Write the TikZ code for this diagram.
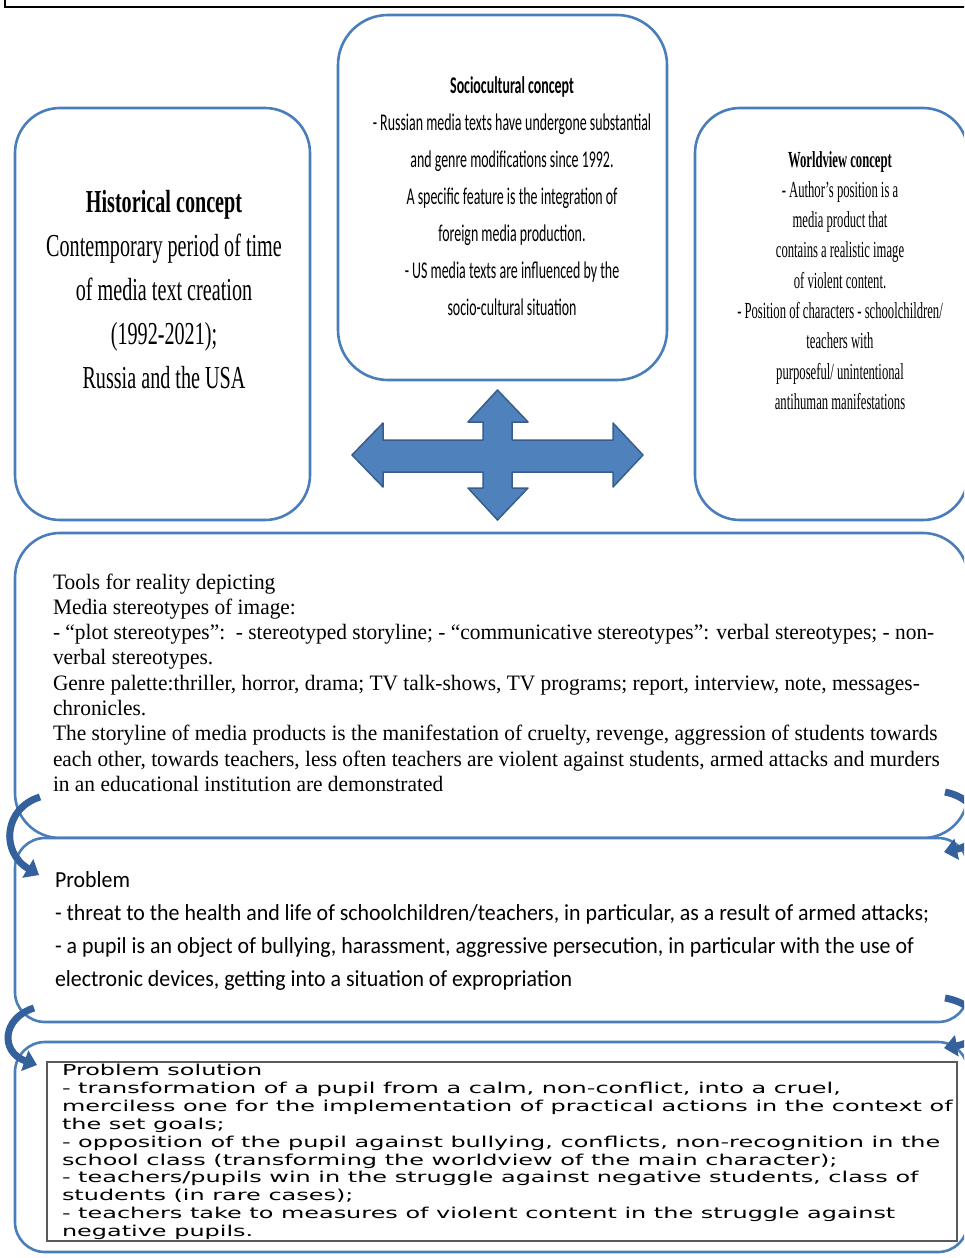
\documentclass[tikz,border=0pt]{standalone}
\usepackage{graphicx}
\usepackage{fontspec}
\setmainfont{Liberation Serif}
\newfontfamily\sansc{Carlito}
\newfontfamily\solfont{DejaVu Sans}
\newcommand{\hsc}[3]{\scalebox{#1}[1]{\begin{tabular}[t]{@{}#2@{}}#3\end{tabular}}}
\usetikzlibrary{arrows.meta}
\definecolor{boxblue}{RGB}{74,126,187}
\definecolor{arrfill}{RGB}{79,129,189}
\definecolor{arrline}{RGB}{56,93,138}
\definecolor{curvblue}{RGB}{52,96,155}
\definecolor{rectgray}{RGB}{90,90,90}
\begin{document}
\begin{tikzpicture}[x=1pt,y=-1pt,
  cbox/.style={draw=boxblue, line width=2.6pt, fill=white},
  txt/.style={inner sep=0pt, outer sep=0pt, text=black},
  carrow/.style={draw=curvblue, line width=7pt, -{Triangle[length=13pt,width=21pt]}},
  cross/.style={fill=arrfill, draw=arrline, line width=1.5pt, line join=round}
]
\useasboundingbox (0,0) rectangle (964,1258);
\clip (0,0) rectangle (964,1258);
\fill[white] (0,0) rectangle (964,1258);
% top frame
\draw[black, line width=1.6pt] (5,-5) -- (5,7) -- (975,7);

% concept boxes
\draw[cbox, rounded corners=45pt] (15,108) rectangle (310,520);
\draw[cbox, rounded corners=50pt] (338,15) rectangle (667,380);
\draw[cbox, rounded corners=45pt] (695,108) rectangle (968,520);

% lower boxes
\draw[cbox, rounded corners=45pt] (15,533) rectangle (968,838);
\draw[cbox, rounded corners=30pt] (15,838) rectangle (968,1022);
\draw[cbox, rounded corners=30pt] (15,1042) rectangle (968,1252);
\draw[rectgray, line width=1.4pt] (47,1062) rectangle (957,1241);

% four-headed arrow
\draw[cross] (352,455) -- (383,423) -- (383,440) -- (483,440) -- (483,422) -- (468,422)
  -- (497.5,390) -- (528,422) -- (512,422) -- (512,440) -- (613,440) -- (613,423)
  -- (643,455) -- (613,487) -- (613,472) -- (512,472) -- (512,488) -- (528,488)
  -- (497.5,520) -- (468,488) -- (483,488) -- (483,472) -- (383,472) -- (383,487) -- cycle;

% curved arrows
\coordinate (la1s) at (40,797);  \coordinate (la1e) at (39,875);
\coordinate (la2s) at (34,1008); \coordinate (la2e) at (37,1065);
\coordinate (ra1s) at (945,792); \coordinate (ra1e) at (944,852);
\coordinate (ra2s) at (945,998); \coordinate (ra2e) at (944,1048);
\draw[carrow] (la1s) .. controls (4,808) and (0,852) .. (la1e);
\draw[carrow] (la2s) .. controls (2,1018) and (0,1052) .. (la2e);
\draw[carrow] (ra1s) .. controls (985,800) and (990,842) .. (ra1e);
\draw[carrow] (ra2s) .. controls (985,1005) and (990,1040) .. (ra2e);

% texts
\node[txt, anchor=base, font={\rmfamily\fontsize{32}{44}\selectfont}] (hist) at (164,212)
  {\hsc{0.63}{c}{\textbf{Historical concept}\\Contemporary period of time\\of media text creation\\(1992-2021);\\Russia and the USA}};

\node[txt, anchor=base, font={\sansc\fontsize{24}{37}\selectfont}] (soc) at (512,93)
  {\hsc{0.58}{c}{\textbf{Sociocultural concept}\\- Russian media texts have undergone substantial\\and genre modifications since 1992.\\A specific feature is the integration of\\foreign media production.\\- US media texts are influenced by the\\socio-cultural situation}};

\node[txt, anchor=base, font={\rmfamily\fontsize{23}{30.3}\selectfont}] (wv) at (840,167)
  {\hsc{0.55}{c}{\textbf{Worldview concept}\\- Author’s position is a\\media product that\\contains a realistic image\\of violent content.\\- Position of characters - schoolchildren/\\teachers with\\purposeful/ unintentional\\antihuman manifestations}};

\node[txt, anchor=base west, font={\rmfamily\fontsize{22}{25.3}\selectfont}] (tools) at (53,589)
  {\hsc{0.972}{l}{Tools for reality depicting\\
   Media stereotypes of image:\\
   - “plot stereotypes”:\ \ - stereotyped storyline; - “communicative stereotypes”: verbal stereotypes; - non-\\
   verbal stereotypes.\\
   Genre palette:thriller, horror, drama; TV talk-shows, TV programs; report, interview, note, messages-\\
   chronicles.\\
   The storyline of media products is the manifestation of cruelty, revenge, aggression of students towards\\
   each other, towards teachers, less often teachers are violent against students, armed attacks and murders\\
   in an educational institution are demonstrated}};

\node[txt, anchor=base west, font={\sansc\fontsize{23}{33}\selectfont}] (prob) at (55,887)
  {\hsc{0.952}{l}{Problem\\
   - threat to the health and life of schoolchildren/teachers, in particular, as a result of armed attacks;\\
   - a pupil is an object of bullying, harassment, aggressive persecution, in particular with the use of\\
   electronic devices, getting into a situation of expropriation}};

\node[txt, anchor=base west, font={\solfont\fontsize{15}{17.9}\selectfont}] (sol) at (62,1075.5)
  {\hsc{1.596}{l}{Problem solution\\
   - transformation of a pupil from a calm, non-conflict, into a cruel,\\
   merciless one for the implementation of practical actions in the context of\\
   the set goals;\\
   - opposition of the pupil against bullying, conflicts, non-recognition in the\\
   school class (transforming the worldview of the main character);\\
   - teachers/pupils win in the struggle against negative students, class of\\
   students (in rare cases);\\
   - teachers take to measures of violent content in the struggle against\\
   negative pupils.}};
\end{tikzpicture}
\end{document}
